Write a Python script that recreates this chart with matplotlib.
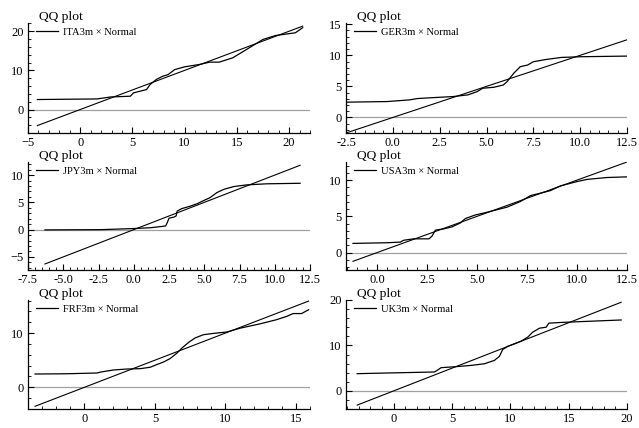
import matplotlib
matplotlib.use("Agg")
import matplotlib.pyplot as plt
from matplotlib.ticker import AutoMinorLocator, MultipleLocator, FormatStrFormatter

plt.rcParams['font.family'] = ['Liberation Serif', 'DejaVu Serif']

names = ["ITA3m", "GER3m", "JPY3m", "USA3m", "FRF3m", "UK3m"]

# theoretical (x) and sample (y) quantiles
ita_x = [-4.1, 1.6, 2.9, 4.8, 5.1, 6.35, 6.7, 7.3, 7.9, 8.4, 9.05, 10.0, 11.4, 12.4, 13.3, 14.6, 15.9, 17.5, 18.7, 20.6, 21.3]
ita_y = [2.55, 2.7, 3.2, 3.4, 4.25, 5.1, 6.4, 7.7, 8.5, 8.9, 10.2, 10.9, 11.5, 12.1, 12.1, 13.2, 15.3, 17.9, 18.9, 19.6, 20.9]

ger_x = [-2.5, -0.3, 0.9, 1.3, 2.2, 3.2, 4.0, 4.5, 4.8, 5.4, 5.9, 6.1, 6.45, 6.8, 7.2, 7.5, 8.2, 9.0, 10.0, 12.6]
ger_y = [2.46, 2.56, 2.83, 3.04, 3.2, 3.36, 3.63, 4.16, 4.7, 4.86, 5.23, 5.77, 7.1, 8.17, 8.44, 8.97, 9.34, 9.66, 9.77, 9.88]

jpy_x = [-6.3, -2.3, 0.0, 1.2, 2.26, 2.38, 2.5, 2.85, 3.0, 3.08, 3.4, 4.0, 4.5, 4.85, 5.4, 5.9, 6.4, 7.1, 8.0, 9.4, 11.8]
jpy_y = [-0.05, 0.0, 0.2, 0.35, 0.67, 1.3, 2.1, 2.3, 2.5, 3.4, 3.85, 4.3, 4.75, 5.2, 5.85, 6.8, 7.4, 7.9, 8.2, 8.4, 8.5]

usa_x = [-1.2, 0.5, 1.17, 1.33, 1.83, 2.6, 2.75, 2.92, 3.33, 3.75, 4.17, 4.42, 4.92, 5.33, 5.83, 6.5, 7.17, 7.67, 8.17, 8.67, 9.17, 10.0, 10.5, 11.5, 12.5]
usa_y = [1.27, 1.36, 1.45, 1.7, 1.9, 1.9, 2.27, 3.1, 3.27, 3.55, 4.1, 4.7, 5.2, 5.45, 5.8, 6.27, 7.05, 7.86, 8.2, 8.55, 9.2, 9.8, 10.1, 10.36, 10.45]

frf_x = [-3.5, -1.23, 0.9, 1.13, 2.08, 3.0, 3.96, 4.67, 5.14, 5.61, 6.08, 6.56, 6.9, 7.4, 7.85, 8.44, 9.15, 10.1, 11.04, 12.45, 13.6, 14.34, 14.8, 15.4, 15.9]
frf_y = [2.45, 2.5, 2.64, 2.8, 3.2, 3.37, 3.44, 3.7, 4.2, 4.66, 5.3, 6.3, 7.2, 8.3, 9.1, 9.7, 9.94, 10.2, 10.9, 11.7, 12.45, 13.07, 13.6, 13.6, 14.3]

uk_x = [-3.14, -0.5, 3.5, 3.77, 4.06, 5.2, 6.63, 7.77, 8.63, 9.06, 9.34, 9.77, 10.9, 11.5, 11.9, 12.5, 13.06, 13.3, 14.3, 16.6, 19.5]
uk_y = [3.78, 3.93, 4.15, 4.6, 5.1, 5.3, 5.6, 5.96, 6.7, 7.6, 9.1, 9.8, 10.9, 11.85, 12.9, 13.8, 14.0, 14.9, 15.05, 15.3, 15.6]

xs = [ita_x, ger_x, jpy_x, usa_x, frf_x, uk_x]
ys = [ita_y, ger_y, jpy_y, usa_y, frf_y, uk_y]

xlims = [(-5, 22), (-2.5, 12.5), (-7.5, 12.5), (-1.55, 12.5), (-4, 16), (-4.1, 20)]
ylims = [(-6, 22.1), (-2.5, 15.2), (-7.4, 12.4), (-2.4, 12.5), (-4, 16.1), (-4, 20)]
xmaj = [5, 2.5, 2.5, 2.5, 5, 5]
ymaj = [10, 5, 5, 5, 10, 10]

W, H = 639, 428
# axes boxes in pixels: left, top, right, bottom
boxes = [(28, 23, 310, 133), (346, 23, 627, 133),
         (28, 162, 310, 270), (346, 162, 627, 270),
         (28, 300, 310, 409), (346, 300, 627, 409)]

fig = plt.figure(figsize=(W / 100, H / 100), dpi=100)

for i in range(6):
    l, t, r, b = boxes[i]
    ax = fig.add_axes([l / W, 1 - b / H, (r - l) / W, (b - t) / H])
    x = xs[i]
    y = ys[i]
    ax.axhline(0, color='#a0a0a0', lw=0.9, zorder=1)
    ax.plot([x[0], x[-1]], [x[0], x[-1]], color='black', lw=0.8, zorder=2)
    ax.plot(x, y, color='black', lw=0.9, zorder=3, label=names[i] + " \u00d7 Normal")
    ax.set_xlim(*xlims[i])
    ax.set_ylim(*ylims[i])
    ax.xaxis.set_major_locator(MultipleLocator(xmaj[i]))
    ax.yaxis.set_major_locator(MultipleLocator(ymaj[i]))
    ax.xaxis.set_minor_locator(AutoMinorLocator())
    ax.yaxis.set_minor_locator(AutoMinorLocator())
    if xmaj[i] == 2.5:
        ax.xaxis.set_major_formatter(FormatStrFormatter('%.1f'))
    for s in ['top', 'right']:
        ax.spines[s].set_visible(False)
    for s in ['left', 'bottom']:
        ax.spines[s].set_linewidth(0.9)
    ax.tick_params(which='major', direction='in', length=4, width=0.8, labelsize=9, pad=3)
    ax.tick_params(which='minor', direction='in', length=2, width=0.6)
    ax.text(0.04, 1.0, 'QQ plot', transform=ax.transAxes, ha='left', va='bottom', fontsize=9.7)
    ax.legend(loc='upper left', bbox_to_anchor=(0.03, 0.96), frameon=False, fontsize=7.6,
              handlelength=2.0, handletextpad=0.48, borderaxespad=0, borderpad=0)

fig.savefig('out.png', dpi=100)
